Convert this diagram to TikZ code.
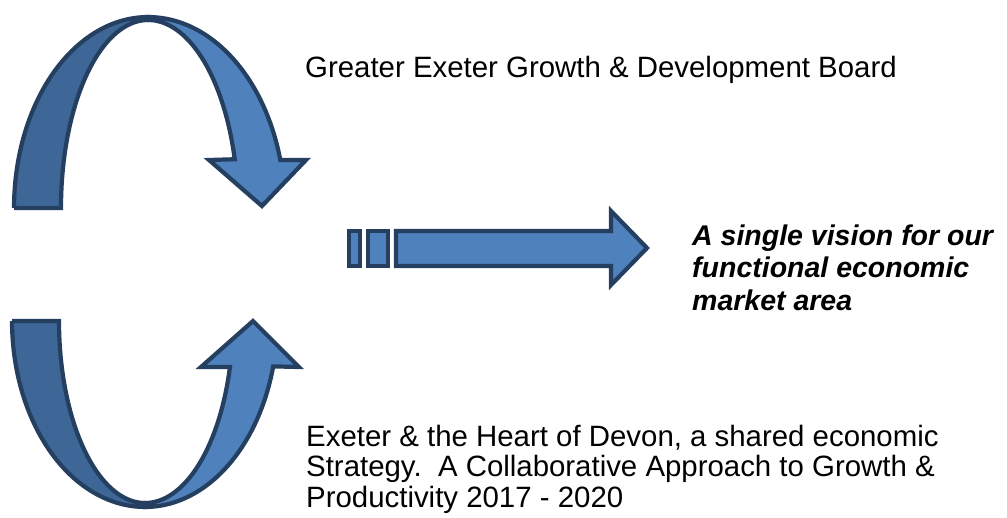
\documentclass[tikz,border=0pt]{standalone}
\usepackage{fontspec}
\setmainfont{Liberation Sans}
\definecolor{lightblue}{HTML}{4F81BD}
\definecolor{darkblue}{HTML}{3E6696}
\definecolor{outline}{HTML}{243F60}
\begin{document}
\begin{tikzpicture}[x=1pt,y=-1pt,
  band/.style={draw=outline, line width=4.2pt, line join=miter},
  front/.style={band, fill=lightblue},
  back/.style={band, fill=darkblue},
  txt/.style={anchor=base west, inner sep=0pt, font=\fontsize{29.4}{31}\selectfont},
  btxt/.style={txt, font=\fontsize{28.5}{30}\selectfont\bfseries\itshape}]
\useasboundingbox (0,0) rectangle (1007,517);
% ---------- top curved arrow ----------
\draw[back] (14,208) -- (61,208)
  -- plot[domain=180:270, samples=40] ({148+87*cos(\x)}, {208+188*sin(\x)})
  -- (148,17)
  -- plot[domain=270:180, samples=40] ({148+134*cos(\x)}, {208+191*sin(\x)})
  -- cycle;
\draw[front] (148,20) -- (148,17)
  -- plot[domain=270:345, samples=40] ({148+137*cos(\x)}, {210+193*sin(\x)})
  -- (306,160) -- (262,206) -- (209,160)
  -- plot[domain=344.5:270, samples=40] ({148+90*cos(\x)}, {210+190*sin(\x)})
  -- cycle;
% ---------- bottom curved arrow ----------
\draw[back] (12,321) -- (59,321)
  -- plot[domain=180:90, samples=40] ({145+86*cos(\x)}, {321+182*sin(\x)})
  -- (145,507)
  -- plot[domain=90:180, samples=40] ({145+133*cos(\x)}, {321+186*sin(\x)})
  -- cycle;
\draw[front] (145,503) -- (145,507)
  -- plot[domain=90:14.6, samples=40] ({145+132.5*cos(\x)}, {319+188*sin(\x)})
  -- (299,367) -- (253,321) -- (201,367)
  -- plot[domain=15.1:90, samples=40] ({145+88*cos(\x)}, {319+184*sin(\x)})
  -- cycle;
% ---------- straight striped arrow ----------
\draw[front] (349,231) rectangle (360,266);
\draw[front] (368,231) rectangle (388,266);
\draw[front] (396,231) -- (611,231) -- (611,211) -- (647,248) -- (611,285)
  -- (611,266) -- (396,266) -- cycle;
% ---------- texts ----------
\node[txt] (board) at (305,77) {Greater Exeter Growth \& Development Board};
\node[btxt] (v1) at (692,245) {A single vision for our};
\node[btxt] (v2) at (692,277.5) {functional economic};
\node[btxt] (v3) at (692,310) {market area};
\node[txt] (s1) at (306,446) {Exeter \& the Heart of Devon, a shared economic};
\node[txt] (s2) at (306,476.5) {Strategy.\ \ A Collaborative Approach to Growth \&};
\node[txt] (s3) at (306,507) {Productivity 2017 - 2020};
\end{tikzpicture}
\end{document}
